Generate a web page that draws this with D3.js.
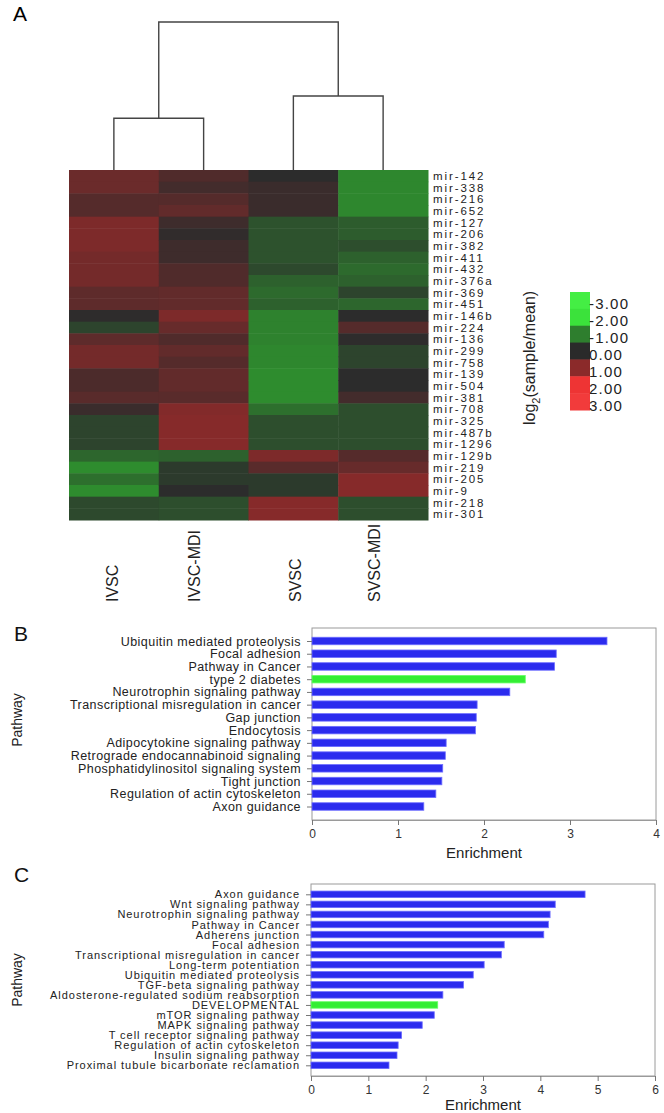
<!DOCTYPE html>
<html><head><meta charset="utf-8">
<script src="https://cdn.jsdelivr.net/npm/d3@7"></script>
<style>body{margin:0;background:#fff}svg{display:block}text{font-family:"Liberation Sans",Arial,sans-serif}</style>
</head><body><svg id="c" width="664" height="1113"></svg>
<script>
// ---- Panel A data ----
const samples = ["IVSC","IVSC-MDI","SVSC","SVSC-MDI"];
const mirs = ["mir-142","mir-338","mir-216","mir-652","mir-127","mir-206","mir-382","mir-411","mir-432","mir-376a","mir-369","mir-451","mir-146b","mir-224","mir-136","mir-299","mir-758","mir-139","mir-504","mir-381","mir-708","mir-325","mir-487b","mir-1296","mir-129b","mir-219","mir-205","mir-9","mir-218","mir-301"];
const valIVSC    = [0.7,0.7,0.45,0.45,0.9,0.9,0.9,0.8,0.8,0.8,0.55,0.55,0.02,-0.25,0.55,0.8,0.8,0.35,0.35,0.5,0.15,-0.25,-0.25,-0.25,-0.6,-1.0,-0.7,-1.0,-0.3,-0.3];
const valIVSCMDI = [0.4,0.25,0.45,0.6,0.2,0.05,0.2,0.2,0.4,0.4,0.6,0.6,0.9,0.65,0.4,0.6,0.45,0.6,0.6,0.5,0.95,1.0,1.0,1.0,-0.55,-0.15,-0.15,0.0,-0.35,-0.35];
const valSVSC    = [0.0,0.15,0.15,0.15,-0.4,-0.4,-0.4,-0.4,-0.3,-0.55,-0.65,-0.55,-0.9,-0.9,-0.9,-0.95,-0.95,-1.0,-1.0,-1.0,-0.7,-0.35,-0.35,-0.35,0.9,0.5,-0.15,-0.15,1.0,1.0];
const valSVSCMDI = [-0.95,-0.95,-0.95,-0.95,-0.5,-0.5,-0.35,-0.55,-0.65,-0.55,-0.25,-0.6,0.0,0.45,0.02,-0.25,-0.25,0.0,0.0,0.25,-0.35,-0.35,-0.35,-0.35,0.45,0.65,1.0,1.0,-0.35,-0.35];
const legendValues = [-3,-2,-1,0,1,2,3];
const legendLabels = ["-3.00","-2.00","-1.00","0.00","1.00","2.00","3.00"];
const legendColors = ["#44ee44","#3be23b","#2e7e2e","#2a2a2a","#8b2a2a","#ee3434","#f23b3b"];
// dendrogram merge heights (0 = leaves, larger = higher merge)
const mergeLeft = 0.35, mergeRight = 0.5, mergeRoot = 1.0;

// ---- Panel B data ----
const pathB = ["Ubiquitin mediated proteolysis","Focal adhesion","Pathway in Cancer","type 2 diabetes","Neurotrophin signaling pathway","Transcriptional misregulation in cancer","Gap junction","Endocytosis","Adipocytokine signaling pathway","Retrograde endocannabinoid signaling","Phosphatidylinositol signaling system","Tight junction","Regulation of actin cytoskeleton","Axon guidance"];
const enrichB = [3.43,2.84,2.82,2.48,2.30,1.92,1.91,1.90,1.56,1.55,1.52,1.51,1.44,1.30];
const highlightB = ["type 2 diabetes"];
const ticksB = [0,1,2,3,4];

// ---- Panel C data ----
const pathC = ["Axon guidance","Wnt signaling pathway","Neurotrophin signaling pathway","Pathway in Cancer","Adherens junction","Focal adhesion","Transcriptional misregulation in cancer","Long-term potentiation","Ubiquitin mediated proteolysis","TGF-beta signaling pathway","Aldosterone-regulated sodium reabsorption","DEVELOPMENTAL","mTOR signaling pathway","MAPK signaling pathway","T cell receptor signaling pathway","Regulation of actin cytoskeleton","Insulin signaling pathway","Proximal tubule bicarbonate reclamation"];
const enrichC = [4.78,4.26,4.17,4.14,4.06,3.37,3.32,3.02,2.83,2.66,2.30,2.21,2.15,1.94,1.58,1.52,1.50,1.36];
const highlightC = ["DEVELOPMENTAL"];
const ticksC = [0,1,2,3,4,5,6];

const svg = d3.select("#c");

// ---------- Panel A ----------
const cols = [valIVSC,valIVSCMDI,valSVSC,valSVSCMDI];
const x = d3.scaleBand().domain(samples).range([69,428]);
const y = d3.scaleBand().domain(mirs).range([170,520]);
const color = d3.scaleLinear().domain([-1,0,1]).range(["#2e8c2e","#2c2c2c","#862a2a"]).clamp(true);

svg.append("text").attr("x",13).attr("y",21).attr("font-size",21).text("A");

const gh = svg.append("g");
samples.forEach((s,j)=>{
  mirs.forEach((m,i)=>{
    gh.append("rect").attr("x",x(s)).attr("y",y(m)).attr("width",x.bandwidth()+0.5).attr("height",y.bandwidth()+0.5)
      .attr("fill",color(cols[j][i]));
  });
});
// row labels
svg.append("g").selectAll("text").data(mirs).join("text")
  .attr("x",433).attr("y",d=>y(d)+y.bandwidth()/2+4.2)
  .attr("font-size",11.5).attr("letter-spacing",1.9).attr("fill","#222").text(d=>d);
// column labels
const colLabelX = {"IVSC":112,"IVSC-MDI":194,"SVSC":295,"SVSC-MDI":374};
svg.append("g").selectAll("text").data(samples).join("text")
  .attr("transform",d=>`translate(${colLabelX[d]+6},602) rotate(-90)`)
  .attr("font-size",16).attr("fill","#222").text(d=>d);

// dendrogram
const hy = d3.scaleLinear().domain([0,1]).range([170,22]);
const cx = d=>x(d)+x.bandwidth()/2;
const dg = svg.append("g").attr("fill","none").attr("stroke","#444").attr("stroke-width",1.4);
const lmid = (cx(samples[0])+cx(samples[1]))/2, rmid=(cx(samples[2])+cx(samples[3]))/2;
dg.append("path").attr("d",`M${cx(samples[0])},${hy(0)}V${hy(mergeLeft)}H${cx(samples[1])}V${hy(0)}`);
dg.append("path").attr("d",`M${cx(samples[2])},${hy(0)}V${hy(mergeRight)}H${cx(samples[3])}V${hy(0)}`);
dg.append("path").attr("d",`M${lmid},${hy(mergeLeft)}V${hy(mergeRoot)}H${rmid}V${hy(mergeRight)}`);

// legend
const ly = d3.scaleBand().domain(legendValues).range([292,410]);
svg.append("g").selectAll("rect").data(legendValues).join("rect")
  .attr("x",570).attr("y",d=>ly(d)).attr("width",20).attr("height",ly.bandwidth()+0.5)
  .attr("fill",(d,i)=>legendColors[i]);
svg.append("g").selectAll("text").data(legendValues).join("text")
  .attr("x",589).attr("y",d=>ly(d)+ly.bandwidth()/2+9)
  .attr("font-size",15).attr("letter-spacing",1.2).attr("fill","#222").text((d,i)=>legendLabels[i]);
const lt = svg.append("text").attr("transform","translate(535,425) rotate(-90)").attr("font-size",16).attr("fill","#222");
lt.append("tspan").text("log");
lt.append("tspan").attr("font-size",11).attr("dy",5).text("2");
lt.append("tspan").attr("dy",-5).text("(sample/mean)");

// ---------- Bar panels ----------
function barPanel(opt){
  const {labels,values,hl,ticks,x0,x1,top,bottom,yFirst,yLast,barH,letter,letterY,pathY,titleY,labelSize,labelSpacing} = opt;
  const xs = d3.scaleLinear().domain([ticks[0],ticks[ticks.length-1]]).range([x0,x1]);
  const ys = d3.scalePoint().domain(labels).range([yFirst,yLast]);
  const g = svg.append("g");
  g.append("rect").attr("x",x0).attr("y",top).attr("width",x1-x0).attr("height",bottom-top)
    .attr("fill","none").attr("stroke","#9a9a9a").attr("stroke-width",1);
  g.append("g").selectAll("rect").data(labels).join("rect")
    .attr("x",xs(0)).attr("y",d=>ys(d)-barH/2).attr("width",(d,i)=>xs(values[i])-xs(0)).attr("height",barH)
    .attr("fill",d=>hl.includes(d)?"#33ee33":"#2b2bee")
    .attr("stroke",d=>hl.includes(d)?"#66ff66":"#6d6dff").attr("stroke-width",0.8);
  // y axis
  const ya = g.append("g").attr("transform",`translate(${x0},0)`).call(d3.axisLeft(ys).tickSize(5).tickPadding(6));
  ya.select(".domain").remove();
  ya.selectAll("line").attr("stroke","#777");
  ya.selectAll("text").attr("font-size",labelSize).attr("letter-spacing",labelSpacing).attr("fill","#222")
    .attr("font-family","Liberation Sans, Arial, sans-serif");
  // x axis
  const xa = g.append("g").attr("transform",`translate(0,${bottom})`).call(d3.axisBottom(xs).tickValues(ticks).tickFormat(d3.format("d")).tickSize(5).tickPadding(4));
  xa.select(".domain").attr("stroke","#9a9a9a");
  xa.selectAll("line").attr("stroke","#777");
  xa.selectAll("text").attr("font-size",12).attr("fill","#333").attr("font-family","Liberation Sans, Arial, sans-serif");
  g.append("text").attr("x",(x0+x1)/2).attr("y",titleY).attr("text-anchor","middle").attr("font-size",15).attr("fill","#222").text("Enrichment");
  g.append("text").attr("transform",`translate(22,${pathY}) rotate(-90)`).attr("text-anchor","middle").attr("font-size",14).attr("fill","#222").text("Pathway");
  g.append("text").attr("x",14).attr("y",letterY).attr("font-size",21).attr("fill","#111").text(letter);
}
barPanel({labels:pathB,values:enrichB,hl:highlightB,ticks:ticksB,x0:312,x1:656,top:628,bottom:820,yFirst:641,yLast:806.5,barH:7.5,letter:"B",letterY:641,pathY:720,titleY:858,labelSize:12.5,labelSpacing:0.45});
barPanel({labels:pathC,values:enrichC,hl:highlightC,ticks:ticksC,x0:311,x1:655,top:884,bottom:1076,yFirst:894.3,yLast:1065.3,barH:6.5,letter:"C",letterY:882,pathY:980,titleY:1110,labelSize:11,labelSpacing:0.95});
</script></body></html>
